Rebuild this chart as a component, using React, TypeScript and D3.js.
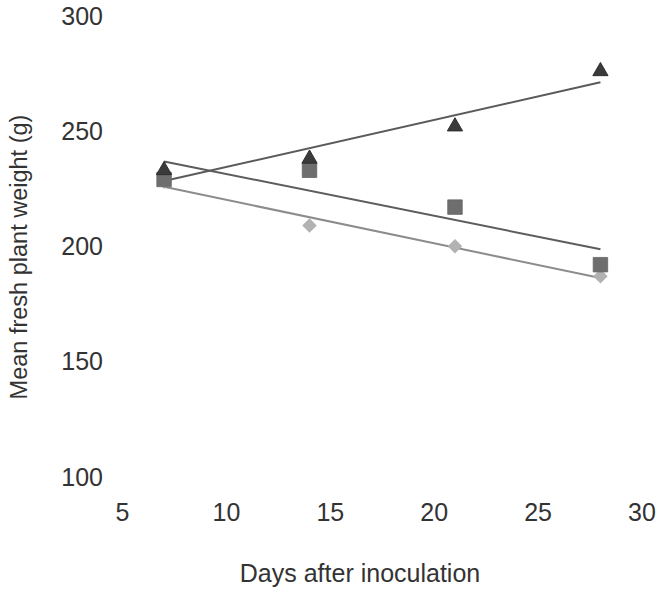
import React from "react";
import * as d3 from "d3";

const days = [7, 14, 21, 28];
const triangleSeries = [233, 238, 252, 276];
const squareSeries = [229, 233, 217, 192];
const diamondSeries = [228, 209, 200, 187];
const xTicks = [5, 10, 15, 20, 25, 30];
const yTicks = [100, 150, 200, 250, 300];

const W = 656;
const H = 591;

function fit(xs: number[], ys: number[]) {
  const mx = d3.mean(xs)!;
  const my = d3.mean(ys)!;
  let num = 0;
  let den = 0;
  xs.forEach((x, i) => {
    num += (x - mx) * (ys[i] - my);
    den += (x - mx) * (x - mx);
  });
  const b = num / den;
  const a = my - b * mx;
  return (x: number) => a + b * x;
}

export default function App() {
  const x = d3.scaleLinear().domain([5, 30]).range([122.5, 642]);
  const y = d3.scaleLinear().domain([100, 300]).range([476.5, 16]);
  const font = "'Liberation Sans', Arial, Helvetica, sans-serif";
  const textColor = "#333";

  const series = [
    { vals: diamondSeries, marker: "diamond", fill: "#b2b2b2", line: "#8c8c8c" },
    { vals: squareSeries, marker: "square", fill: "#6e6e6e", line: "#5c5c5c" },
    { vals: triangleSeries, marker: "triangle", fill: "#3a3a3a", line: "#5a5a5a" },
  ];

  const tri = d3.symbol().type(d3.symbolTriangle).size(100)()!;
  const sq = d3.symbol().type(d3.symbolSquare).size(210)()!;
  const dia = d3.symbol().type(d3.symbolSquare).size(105)()!;

  const x0 = d3.min(days)!;
  const x1 = d3.max(days)!;

  return (
    <svg
      width={W}
      height={H}
      style={{ position: "absolute", left: 0, top: 0, background: "#fff" }}
    >
      <rect width={W} height={H} fill="#fff" />
      {yTicks.map((t) => (
        <text
          key={"y" + t}
          x={103}
          y={y(t) + 9}
          textAnchor="end"
          fontFamily={font}
          fontSize={25}
          fill={textColor}
        >
          {t}
        </text>
      ))}
      {xTicks.map((t) => (
        <text
          key={"x" + t}
          x={x(t)}
          y={520.5}
          textAnchor="middle"
          fontFamily={font}
          fontSize={25}
          fill={textColor}
        >
          {t}
        </text>
      ))}
      <text
        x={360}
        y={582}
        textAnchor="middle"
        fontFamily={font}
        fontSize={25}
        fill={textColor}
      >
        Days after inoculation
      </text>
      <text
        transform={`translate(27,257) rotate(-90)`}
        textAnchor="middle"
        fontFamily={font}
        fontSize={23.5}
        fill={textColor}
      >
        Mean fresh plant weight (g)
      </text>

      {series.map((s, i) => {
        const f = fit(days, s.vals);
        return (
          <line
            key={"l" + i}
            x1={x(x0)}
            y1={y(f(x0))}
            x2={x(x1)}
            y2={y(f(x1))}
            stroke={s.line}
            strokeWidth={2}
          />
        );
      })}

      {series.map((s, i) =>
        s.vals.map((v, j) => {
          const cx = x(days[j]);
          const cy = y(v);
          if (s.marker === "triangle")
            return (
              <path key={`m${i}-${j}`} d={tri} transform={`translate(${cx},${cy})`} fill={s.fill} stroke="#2e2e2e" strokeWidth={1} />
            );
          if (s.marker === "square")
            return (
              <path key={`m${i}-${j}`} d={sq} transform={`translate(${cx},${cy})`} fill={s.fill} stroke="#666" strokeWidth={0.8} />
            );
          return (
            <path key={`m${i}-${j}`} d={dia} transform={`translate(${cx},${cy}) rotate(45)`} fill={s.fill} />
          );
        })
      )}
    </svg>
  );
}
